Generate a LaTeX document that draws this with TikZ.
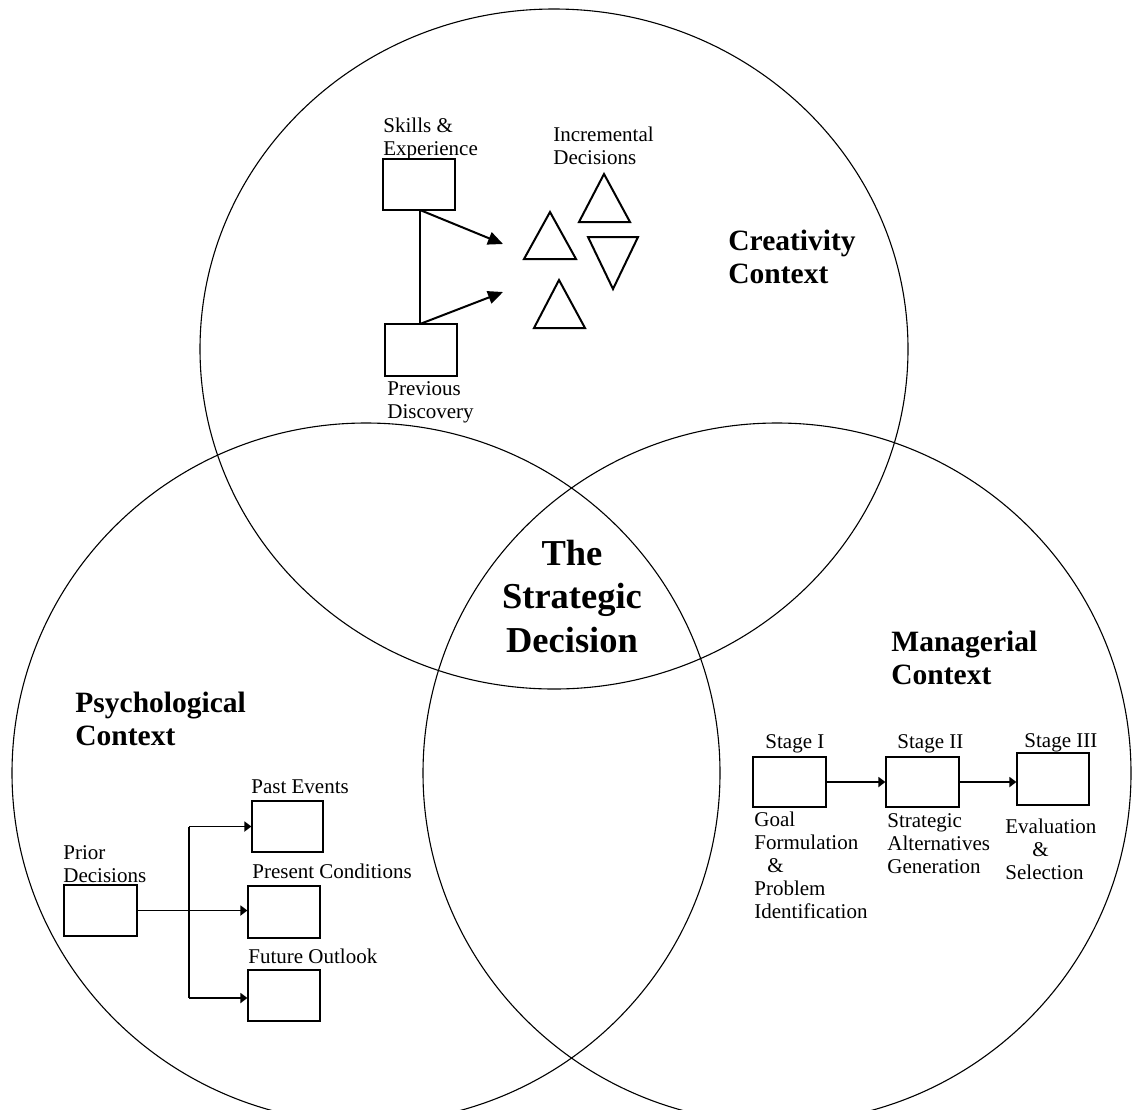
\documentclass[tikz,border=0pt]{standalone}
\usepackage{fontspec}
\setmainfont{Liberation Serif}
\usetikzlibrary{arrows.meta}

\begin{document}
\begin{tikzpicture}[x=0.5pt,y=-0.5pt,
  ring/.style={draw=black, line width=0.55pt},
  box/.style={draw=black, line width=0.6pt, rectangle, inner sep=0pt, minimum width=36pt, minimum height=25.5pt},
  lbl/.style={inner sep=0pt, anchor=base west, align=left, font=\fontsize{10.5pt}{11.5pt}\selectfont},
  ttl/.style={inner sep=0pt, anchor=base west, align=left, font=\fontsize{14.75pt}{16.25pt}\selectfont\bfseries},
  bigttl/.style={inner sep=0pt, anchor=base, align=center, font=\fontsize{18.25pt}{21.75pt}\selectfont\bfseries},
  tri/.style={draw=black, line width=1pt, line join=miter},
  bigarrow/.style={draw=black, line width=1pt, -{Triangle[length=7.5pt, width=6.5pt]}},
  flow/.style={draw=black, line width=0.9pt, -{Triangle[length=3.5pt, width=5pt]}}
]
\useasboundingbox (0,0) rectangle (1133,1109);
\clip (0,0) rectangle (1133,1109);

% the three overlapping contexts
\draw[ring] (554,349) ellipse [x radius=177pt, y radius=170pt];
\draw[ring] (366,773) ellipse [x radius=177pt, y radius=175pt];
\draw[ring] (777,773) ellipse [x radius=177pt, y radius=175pt];

% titles (multi-line labels are placed by the baseline of their last line)
\node[ttl] (crtitle) at (728,283) {Creativity\\Context};
\node[ttl] (mgtitle) at (891,684) {Managerial\\Context};
\node[ttl] (pstitle) at (75,745) {Psychological\\Context};
\node[bigttl] (core) at (572,652) {The\\Strategic\\Decision};

% creativity context
\node[box] (skills) at (419,184.5) {};
\node[box, minimum height=26pt] (prevdisc) at (421,350) {};
\node[lbl] (skillslbl) at (383,155) {Skills \&\\Experience};
\node[lbl] (prevlbl) at (387,418) {Previous\\Discovery};
\node[lbl] (incrlbl) at (553,164) {Incremental\\Decisions};

\coordinate (ctop) at (420,210);
\coordinate (cbot) at (420,324);
\coordinate (aend1) at (503,244);
\coordinate (aend2) at (503,292);
\draw[line width=1pt] (ctop) -- (cbot);
\draw[bigarrow] (ctop) -- (aend1);
\draw[bigarrow] (cbot) -- (aend2);

\draw[tri] (550,212) -- (576,259) -- (524,259) -- cycle;
\draw[tri] (604,174) -- (630,222) -- (579,222) -- cycle;
\draw[tri] (588,237) -- (638,237) -- (613,289) -- cycle;
\draw[tri] (559,280) -- (585,328) -- (534,328) -- cycle;

% psychological context
\node[box, minimum width=36.5pt] (prior) at (100.5,910.5) {};
\node[box, minimum width=35.5pt] (past) at (287.5,826.5) {};
\node[box, minimum height=26pt] (present) at (284,912) {};
\node[box] (future) at (284,995.5) {};
\node[lbl] (priorlbl) at (63,882) {Prior\\Decisions};
\node[lbl] (pastlbl) at (251,793) {Past Events};
\node[lbl] (presentlbl) at (252,878) {Present Conditions};
\node[lbl] (futurelbl) at (248,963) {Future Outlook};

\coordinate (jtop) at (189,826.5);
\coordinate (jbot) at (189,998);
\draw[line width=0.9pt] (jtop) -- (jbot);
\draw[flow] (jtop) -- (past.west);
\draw[flow] (prior.east) -- (prior.east -| present.west);
\draw[flow] (jbot) -- (jbot -| future.west);

% managerial context
\node[box, minimum width=36.5pt, minimum height=25pt] (st1) at (789.5,782) {};
\node[box, minimum width=36.5pt, minimum height=25pt] (st2) at (922.5,782) {};
\node[box, minimum height=26pt] (st3) at (1053,779) {};
\node[lbl] (st1lbl) at (765,748) {Stage I};
\node[lbl] (st2lbl) at (897,748) {Stage II};
\node[lbl] (st3lbl) at (1024,747) {Stage III};
\node[lbl] (st1txt) at (754,918) {Goal\\Formulation\\\hspace*{6.5pt}\&\\Problem\\Identification};
\node[lbl] (st2txt) at (887,873) {Strategic\\Alternatives\\Generation};
\node[lbl] (st3txt) at (1005,879) {Evaluation\\\hspace*{13.5pt}\&\\Selection};

\draw[flow] (st1.east) -- (st2.west);
\draw[flow] (st2.east) -- (st2.east -| st3.west);
\end{tikzpicture}
\end{document}
